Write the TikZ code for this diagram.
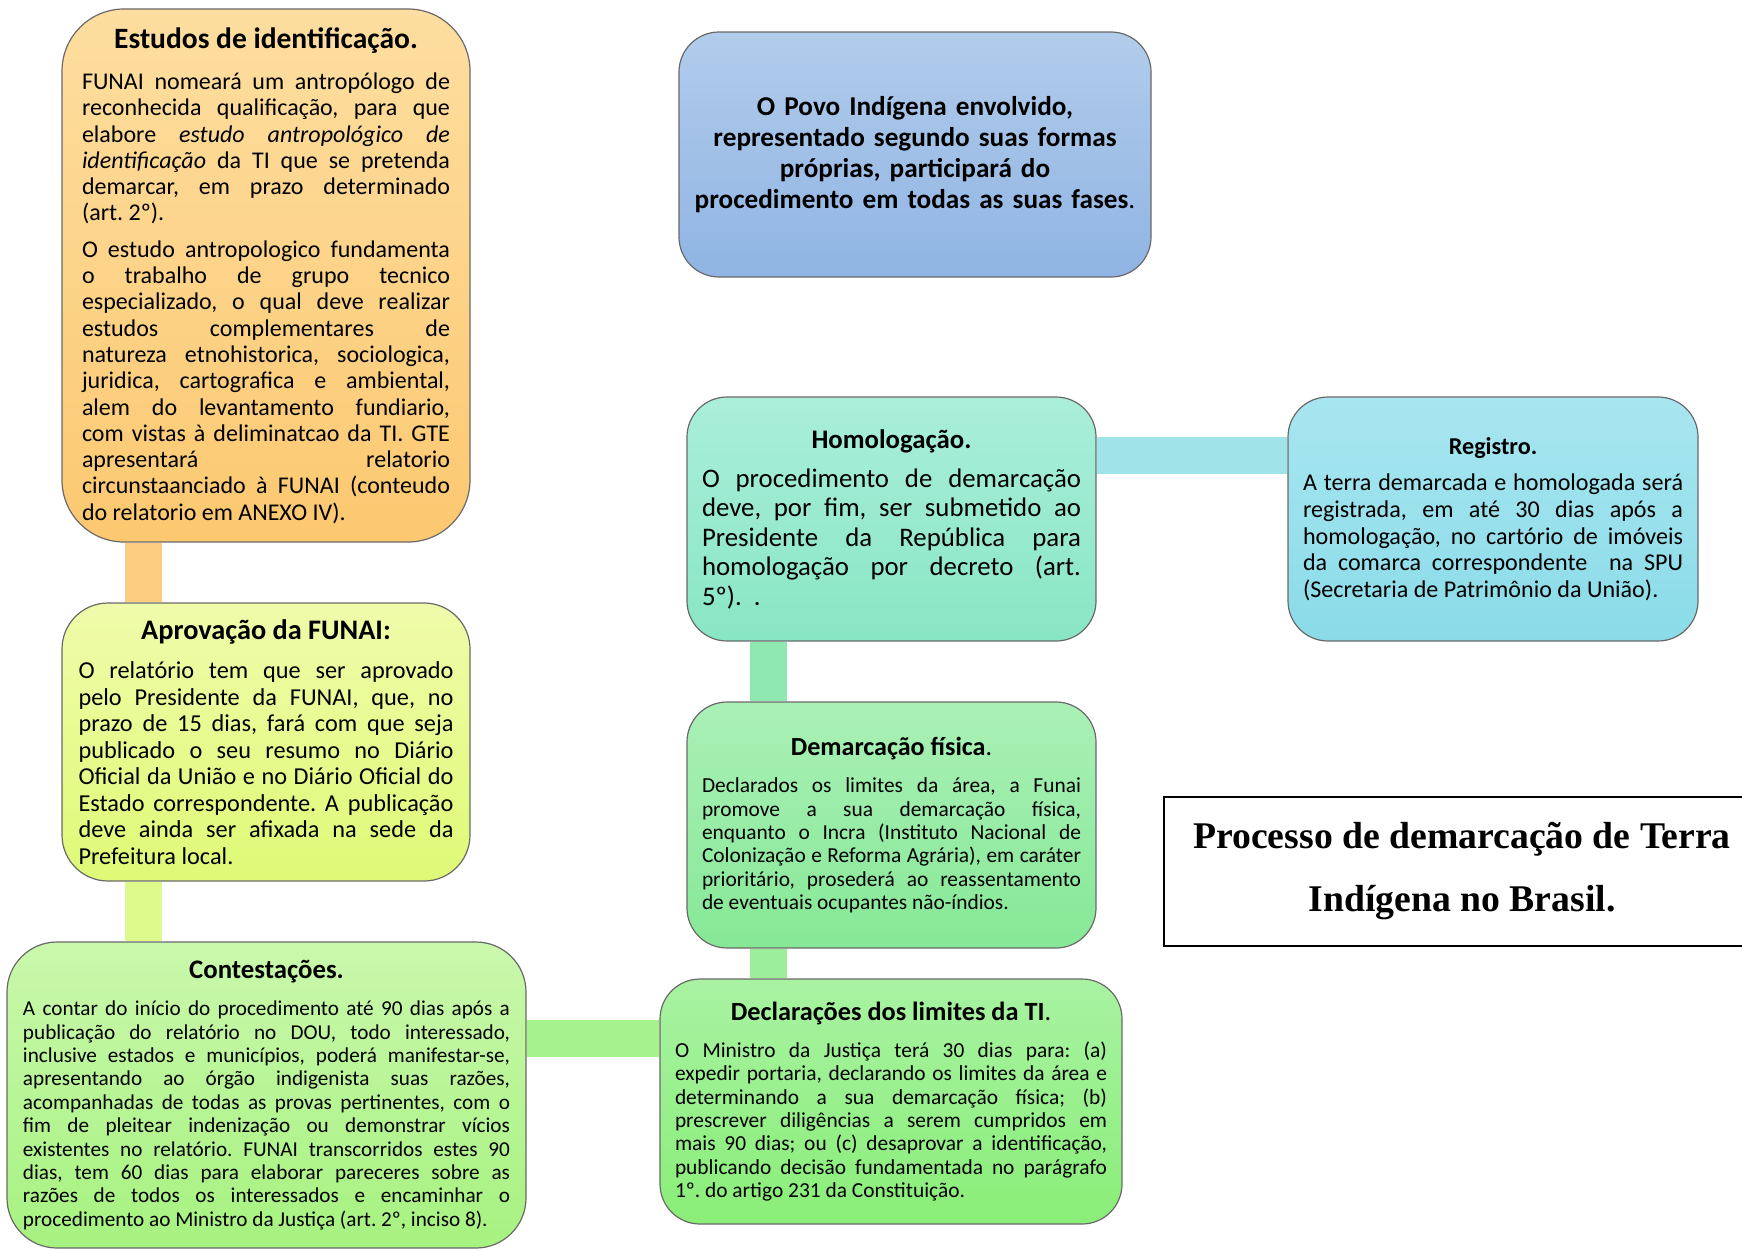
\documentclass[tikz,border=0pt]{standalone}
\usepackage{fontspec}
\setmainfont{Carlito}
\newfontfamily\timesfont{Liberation Serif}
\usepackage{xcolor}
\definecolor{borda}{RGB}{105,105,105}
\definecolor{estA}{RGB}{253,222,160}
\definecolor{estB}{RGB}{252,200,112}
\definecolor{aprA}{RGB}{240,251,170}
\definecolor{aprB}{RGB}{222,250,118}
\definecolor{conA}{RGB}{202,248,172}
\definecolor{conB}{RGB}{166,242,128}
\definecolor{povA}{RGB}{178,204,235}
\definecolor{povB}{RGB}{143,180,227}
\definecolor{homA}{RGB}{170,238,218}
\definecolor{homB}{RGB}{136,230,196}
\definecolor{regA}{RGB}{168,230,240}
\definecolor{regB}{RGB}{138,219,232}
\definecolor{demA}{RGB}{170,240,182}
\definecolor{demB}{RGB}{134,232,150}
\definecolor{decA}{RGB}{168,242,162}
\definecolor{decB}{RGB}{138,238,120}
\definecolor{barLaranja}{RGB}{252,204,128}
\definecolor{barLima}{RGB}{222,249,140}
\definecolor{barVerde}{RGB}{166,242,140}
\definecolor{barMenta}{RGB}{142,232,176}
\definecolor{barCiano}{RGB}{160,228,234}
\usepackage{tikz}
\usetikzlibrary{positioning, backgrounds, calc}
\setlength{\parindent}{0pt}
\setlength{\parskip}{0pt}
\hbadness=10000
\tolerance=10000
\frenchspacing
\newcommand{\corpo}[2]{\fontsize{#1}{#2}\selectfont}
\newcommand{\cabec}[3]{{\centering\fontsize{#1}{#1}\selectfont\bfseries #3\par}\vspace{#2}}
\tikzset{
  caixa/.style={draw=borda, line width=1.2pt, align=justify, inner sep=0pt},
  titulobox/.style={draw=black, line width=1.5pt, align=center, inner sep=0pt,
    minimum width=596pt, minimum height=149pt,
    font=\timesfont\bfseries\corpo{37.7}{63}},
  barra/.style={line width=37pt}
}

\begin{document}
\begin{tikzpicture}[x=1pt, y=-1pt]
  \useasboundingbox (0,0) rectangle (1742,1250);

  \node[caixa, top color=estA, bottom color=estB, rounded corners=62pt,
    minimum width=408pt, minimum height=533pt, text width=368pt,
    font=\corpo{24}{26.3}] (estudos) at (266,275.5)
    {\cabec{29.5}{15pt}{Estudos de identificação.}
     FUNAI nomeará um antropólogo de\linebreak
     reconhecida qualificação, para que\linebreak
     elabore \textit{estudo antropológico de\linebreak
     identificação} da TI que se pretenda\linebreak
     demarcar, em prazo determinado\linebreak
     (art. 2º).\par\vspace{10pt}
     O estudo antropologico fundamenta\linebreak
     o trabalho de grupo tecnico\linebreak
     especializado, o qual deve realizar\linebreak
     estudos complementares de\linebreak
     natureza etnohistorica, sociologica,\linebreak
     juridica, cartografica e ambiental,\linebreak
     alem do levantamento fundiario,\linebreak
     com vistas à deliminatcao da TI. GTE\linebreak
     apresentará relatorio\linebreak
     circunstaanciado à FUNAI (conteudo\linebreak
     do relatorio em ANEXO IV).};

  \node[caixa, top color=aprA, bottom color=aprB, rounded corners=46pt,
    minimum width=408pt, minimum height=278pt, text width=375pt,
    font=\corpo{24.3}{26.5}] (aprovacao) at (266,742)
    {\cabec{28.3}{13pt}{Aprovação da FUNAI:}
     O relatório tem que ser aprovado\linebreak
     pelo Presidente da FUNAI, que, no\linebreak
     prazo de 15 dias, fará com que seja\linebreak
     publicado o seu resumo no Diário\linebreak
     Oficial da União e no Diário Oficial do\linebreak
     Estado correspondente. A publicação\linebreak
     deve ainda ser afixada na sede da\linebreak
     Prefeitura local.};

  \node[caixa, top color=conA, bottom color=conB, rounded corners=50pt,
    minimum width=519pt, minimum height=306pt, text width=487pt,
    font=\corpo{21.2}{23.4}] (contestacoes) at (266.5,1095)
    {\cabec{26.8}{14pt}{Contestações.}
     A contar do início do procedimento até 90 dias após a\linebreak
     publicação do relatório no DOU, todo interessado,\linebreak
     inclusive estados e municípios, poderá manifestar-se,\linebreak
     apresentando ao órgão indigenista suas razões,\linebreak
     acompanhadas de todas as provas pertinentes, com o\linebreak
     fim de pleitear indenização ou demonstrar vícios\linebreak
     existentes no relatório. FUNAI transcorridos estes 90\linebreak
     dias, tem 60 dias para elaborar pareceres sobre as\linebreak
     razões de todos os interessados e encaminhar o\linebreak
     procedimento ao Ministro da Justiça (art.~2º, inciso~8).};

  \node[caixa, top color=povA, bottom color=povB, rounded corners=40pt,
    minimum width=472pt, minimum height=245pt, text width=462pt, align=center,
    font=\bfseries\corpo{27.2}{31}] (povo) at (915,154.5)
    {O Povo Indígena envolvido,\\
     representado segundo suas formas\\
     próprias, participará do\\
     procedimento em todas as suas fases{\mdseries.}};

  \node[caixa, top color=homA, bottom color=homB, rounded corners=40pt,
    minimum width=409pt, minimum height=244pt, text width=379pt,
    font=\corpo{26.8}{29.4}] (homologacao) at (891.5,519)
    {\cabec{26.8}{10pt}{Homologação.}
     O procedimento de demarcação\linebreak
     deve, por fim, ser submetido ao\linebreak
     Presidente da República para\linebreak
     homologação por decreto (art.\linebreak
     5º).\ \ .};

  \node[caixa, top color=regA, bottom color=regB, rounded corners=40pt,
    minimum width=410pt, minimum height=244pt, text width=380pt,
    font=\corpo{24.1}{26.7}] (registro) at (1493,519)
    {\cabec{24.2}{10pt}{Registro.}
     A terra demarcada e homologada será\linebreak
     registrada, em até 30 dias após a\linebreak
     homologação, no cartório de imóveis\linebreak
     da comarca correspondente\ \ na SPU\linebreak
     (Secretaria de Patrimônio da União).};

  \node[caixa, top color=demA, bottom color=demB, rounded corners=40pt,
    minimum width=409pt, minimum height=246pt, text width=379pt,
    font=\corpo{21.4}{23.3}] (demarcacao) at (891.5,825)
    {\cabec{26.1}{14pt}{Demarcação física{\mdseries.}}
     Declarados os limites da área, a Funai\linebreak
     promove a sua demarcação física,\linebreak
     enquanto o Incra (Instituto Nacional de\linebreak
     Colonização e Reforma Agrária), em caráter\linebreak
     prioritário, prosederá ao reassentamento\linebreak
     de eventuais ocupantes não-índios.};

  \node[caixa, top color=decA, bottom color=decB, rounded corners=40pt,
    minimum width=462pt, minimum height=245pt, text width=432pt,
    font=\corpo{21.4}{23.3}] (declaracoes) at (891,1101.5)
    {\cabec{26.3}{14pt}{Declarações dos limites da TI{\mdseries.}}
     O Ministro da Justiça terá 30 dias para: (a)\linebreak
     expedir portaria, declarando os limites da área e\linebreak
     determinando a sua demarcação física; (b)\linebreak
     prescrever diligências a serem cumpridos em\linebreak
     mais 90 dias; ou (c) desaprovar a identificação,\linebreak
     publicando decisão fundamentada no parágrafo\linebreak
     1º. do artigo 231 da Constituição.};

  \node[titulobox] (titulo) at (1462,871.5)
    {Processo de demarcação de Terra\\ Indígena no Brasil.};

  % barras de ligacao
  \begin{scope}[on background layer]
    \coordinate (nivelCon) at (593,1038);
    \draw[barra, barLaranja] ([xshift=82.5pt]estudos.south west)
      -- ([xshift=82.5pt]aprovacao.north west);
    \draw[barra, barLima] ([xshift=82.5pt]aprovacao.south west)
      -- ([xshift=82.5pt]aprovacao.south west |- contestacoes.north);
    \draw[barra, barVerde] (nivelCon -| contestacoes.east)
      -- (nivelCon -| declaracoes.west);
    \draw[barra, barVerde!60!barMenta] ([xshift=82.5pt]demarcacao.south west)
      -- ([xshift=82.5pt]demarcacao.south west |- declaracoes.north);
    \draw[barra, barMenta] ([xshift=82.5pt]homologacao.south west)
      -- ([xshift=82.5pt]demarcacao.north west);
    \draw[barra, barCiano] ([yshift=-59.5pt]homologacao.north east)
      -- ([yshift=-59.5pt]registro.north west);
  \end{scope}

\end{tikzpicture}
\end{document}
